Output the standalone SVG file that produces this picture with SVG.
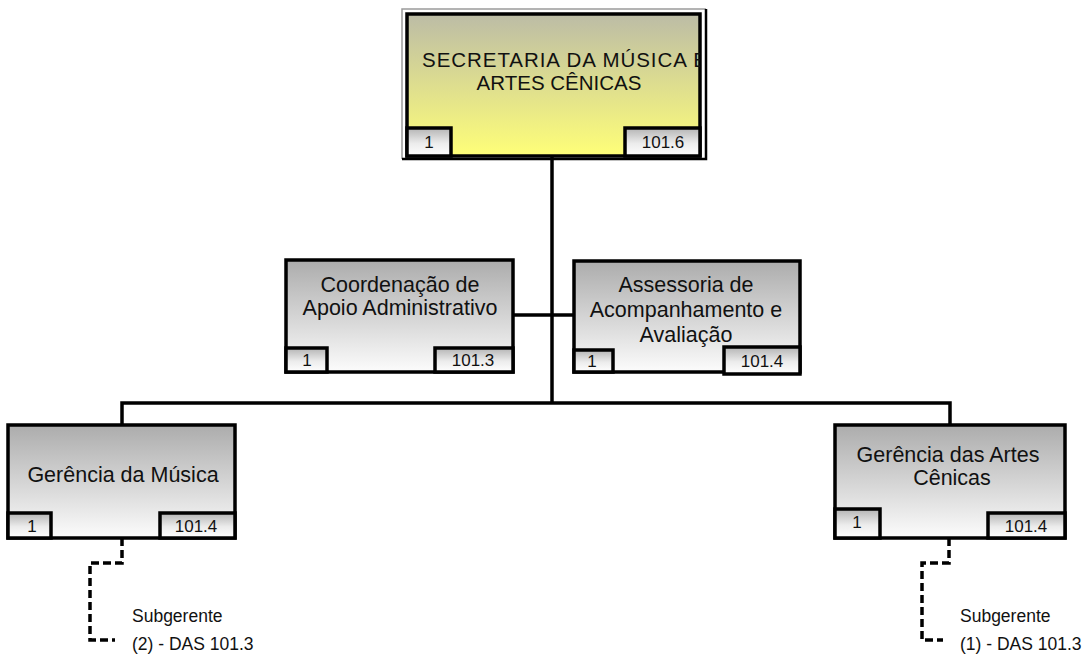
<svg xmlns="http://www.w3.org/2000/svg" width="1091" height="664" viewBox="0 0 1091 664">
<defs>
<linearGradient id="gGray" x1="0" y1="0" x2="0" y2="1">
<stop offset="0" stop-color="#acacac"/>
<stop offset="1" stop-color="#fcfcfc"/>
</linearGradient>
<linearGradient id="gYellow" x1="0" y1="0" x2="0" y2="1">
<stop offset="0" stop-color="#bcbca6"/>
<stop offset="1" stop-color="#ffff78"/>
</linearGradient>
<linearGradient id="gNum" x1="0" y1="0" x2="0" y2="1">
<stop offset="0" stop-color="#b4b4b4"/>
<stop offset="0.55" stop-color="#ececec"/>
<stop offset="1" stop-color="#ffffff"/>
</linearGradient>
<clipPath id="clipTop"><rect x="407" y="14" width="293" height="142"/></clipPath>
<style>
.box{fill:url(#gGray);stroke:#000;stroke-width:3.5}
.num{fill:url(#gNum);stroke:#000;stroke-width:3.5}
.lbl{font-family:"Liberation Sans",Arial,sans-serif;font-size:21.5px;fill:#111;text-anchor:middle}
.ntx{font-family:"Liberation Sans",Arial,sans-serif;font-size:17px;fill:#111;text-anchor:middle}
.sub{font-family:"Liberation Sans",Arial,sans-serif;font-size:17.5px;fill:#111}
.ln{fill:none;stroke:#000;stroke-width:3.5}
.dash{fill:none;stroke:#000;stroke-width:3.5;stroke-dasharray:8 4}
</style>
</defs>

<g id="connectors">
<line class="ln" x1="552" y1="157" x2="552" y2="403"/>
<line class="ln" x1="513" y1="315" x2="574" y2="315"/>
<polyline class="ln" points="122,425 122,403 950,403 950,425"/>
<polyline class="dash" points="122,538 122,563 90,563 90,640 115,640"/>
<polyline class="dash" points="949,538 949,563 922,563 922,640 943,640"/>
</g>

<g id="secretaria">
<polyline points="402,159 402,9 706,9" fill="none" stroke="#9a9a9a" stroke-width="1.5"/>
<polyline points="706,9 706,159 402,159" fill="none" stroke="#000" stroke-width="2.5"/>
<rect x="407" y="14" width="293" height="142" fill="url(#gYellow)" stroke="#000" stroke-width="3.5"/>
<g clip-path="url(#clipTop)">
<text x="422" y="67" font-family="Liberation Sans, Arial, sans-serif" font-size="20.5" fill="#111" textLength="285" lengthAdjust="spacing">SECRETARIA DA MÚSICA E</text>
</g>
<text x="559" y="90" font-family="Liberation Sans, Arial, sans-serif" font-size="20.5" fill="#111" text-anchor="middle">ARTES CÊNICAS</text>
<rect class="num" x="407" y="128" width="44" height="28"/>
<text class="ntx" x="429" y="148">1</text>
<rect class="num" x="625" y="128" width="75" height="28"/>
<text class="ntx" x="663" y="148">101.6</text>
</g>

<g id="coordenacao">
<rect class="box" x="286" y="260" width="227" height="112"/>
<text class="lbl" x="400" y="292">Coordenação de</text>
<text class="lbl" x="400" y="315">Apoio Administrativo</text>
<rect class="num" x="286" y="348" width="41" height="24"/>
<text class="ntx" x="307" y="366">1</text>
<rect class="num" x="435" y="348" width="78" height="24"/>
<text class="ntx" x="473" y="366">101.3</text>
</g>

<g id="assessoria">
<rect class="box" x="574" y="261" width="226" height="111"/>
<text class="lbl" x="686" y="292">Assessoria de</text>
<text class="lbl" x="686" y="317">Acompanhamento e</text>
<text class="lbl" x="686" y="342">Avaliação</text>
<rect class="num" x="574" y="350" width="39" height="22"/>
<text class="ntx" x="592" y="367">1</text>
<rect class="num" x="724" y="347" width="76" height="27"/>
<text class="ntx" x="762" y="367">101.4</text>
</g>

<g id="gerencia-musica">
<rect class="box" x="8" y="425" width="227" height="113"/>
<text class="lbl" x="123" y="482">Gerência da Música</text>
<rect class="num" x="8" y="513" width="43" height="25"/>
<text class="ntx" x="32" y="532">1</text>
<rect class="num" x="160" y="513" width="75" height="25"/>
<text class="ntx" x="196" y="532">101.4</text>
</g>

<g id="gerencia-artes">
<rect class="box" x="835" y="425" width="230" height="113"/>
<text class="lbl" x="948" y="462">Gerência das Artes</text>
<text class="lbl" x="952" y="485">Cênicas</text>
<rect class="num" x="835" y="509" width="45" height="29"/>
<text class="ntx" x="857" y="528">1</text>
<rect class="num" x="988" y="513" width="77" height="25"/>
<text class="ntx" x="1026" y="532">101.4</text>
</g>

<g id="subgerente-musica">
<text class="sub" x="132" y="622">Subgerente</text>
<text class="sub" x="132" y="650">(2) - DAS 101.3</text>
</g>
<g id="subgerente-artes">
<text class="sub" x="960" y="622">Subgerente</text>
<text class="sub" x="960" y="650">(1) - DAS 101.3</text>
</g>
</svg>
